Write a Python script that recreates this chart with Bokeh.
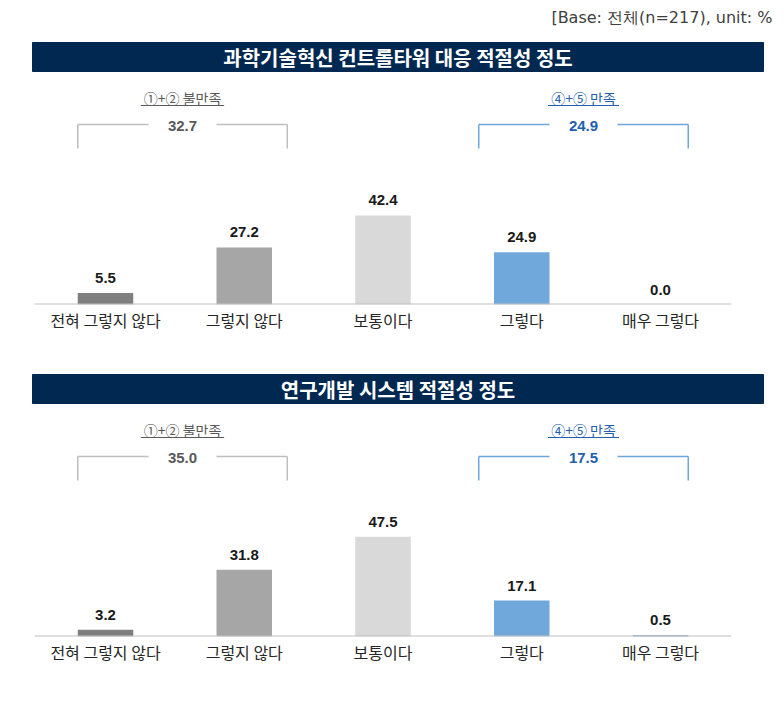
from bokeh.plotting import figure
from bokeh.models import Range1d, FixedTicker
from bokeh.layouts import column
from bokeh.embed import file_html
from bokeh.resources import INLINE
from bokeh.core.properties import value

# ---------------- data ----------------
categories = ["전혀 그렇지 않다", "그렇지 않다", "보통이다", "그렇다", "매우 그렇다"]
titles = ["과학기술혁신 컨트롤타워 대응 적절성 정도", "연구개발 시스템 적절성 정도"]
values_1 = [5.5, 27.2, 42.4, 24.9, 0.0]
values_2 = [3.2, 31.8, 47.5, 17.1, 0.5]
dissatisfied = [32.7, 35.0]
satisfied = [24.9, 17.5]
dissat_label = "①+② 불만족"
sat_label = "④+⑤ 만족"
base_note = "[Base: 전체(n=217), unit: %"

# ---------------- style ----------------
bar_colors = ["#7f7f7f", "#a6a6a6", "#d9d9d9", "#70a8dc", "#2e75b6"]
NAVY = "#002850"
GRAY_TXT = "#595959"
GRAY_LINE = "#bfbfbf"
BLUE_TXT = "#1f5fad"
BLUE_LINE = "#6fa6dc"
KR = "Noto Sans CJK KR"
NUM = "Liberation Sans"

SLOT = 138.75      # px per category
X0 = 105           # px centre of first category
PX_PER_UNIT = 2.1  # px per percent
W = 784
TOTAL_H = 705
P1_H = 340         # height of first panel


def make_panel(title, vals, dissat, sat, top, height, offset, show_note):
    """top: panel top in page px; offset: vertical offset of this panel's design."""
    base = 304 + offset          # baseline in page px
    frame_h = base - top
    p = figure(width=W, height=height,
               x_range=Range1d(-X0 / SLOT, (W - X0) / SLOT),
               y_range=Range1d(0, frame_h / PX_PER_UNIT),
               output_backend="svg", toolbar_location=None,
               min_border_left=0, min_border_right=0, min_border_top=0,
               min_border_bottom=height - frame_h,
               y_axis_location=None, outline_line_color=None)
    p.extra_x_ranges = {"px": Range1d(0, W)}
    p.extra_y_ranges = {"py": Range1d(base, top)}
    p.xgrid.visible = False
    p.ygrid.visible = False

    idx = list(range(len(categories)))
    o = offset

    # title band
    p.quad(left=[32], right=[763], top=[42 + o], bottom=[71 + o], x_range_name="px",
           y_range_name="py", fill_color=NAVY, line_color=NAVY)
    p.text(x=[397.5], y=[56.5 + o], text=[title], x_range_name="px", y_range_name="py",
           text_align="center", text_baseline="middle", text_color="white",
           text_font=value(KR), text_font_style="bold", text_font_size="20px")

    if show_note:
        p.text(x=[772], y=[17 + o], text=[base_note], x_range_name="px", y_range_name="py",
               text_align="right", text_baseline="middle", text_color="#404040",
               text_font=value("DejaVu Sans"), text_font_size="16px")

    # bars
    p.vbar(x=idx, top=vals, width=0.4, fill_color=bar_colors, line_color=None)
    p.text(x=idx, y=vals, text=[f"{v:.1f}" for v in vals], y_offset=-15,
           text_align="center", text_baseline="middle", text_color="#1a1a1a",
           text_font=value(NUM), text_font_style="bold", text_font_size="15px")

    # baseline
    p.segment(x0=[-0.51], x1=[len(categories) - 1 + 0.51], y0=[0], y1=[0],
              line_color=GRAY_LINE, line_width=2)

    # brackets
    groups = [
        (0 - 0.2, 1 + 0.31, dissat, dissat_label, GRAY_LINE, GRAY_TXT, 0.30),
        (3 - 0.31, 4 + 0.2, sat, sat_label, BLUE_LINE, BLUE_TXT, 0.256),
    ]
    for (a, b, tot, lab, lc, tc, uw) in groups:
        c = (a + b) / 2
        gap = 0.245
        p.segment(x0=[a, c + gap, a, b], x1=[c - gap, b, a, b],
                  y0=[124 + o] * 4, y1=[124 + o, 124 + o, 148 + o, 148 + o],
                  y_range_name="py", line_color=lc, line_width=1.5)
        p.text(x=[c], y=[125 + o], text=[f"{tot:.1f}"], y_range_name="py",
               text_align="center", text_baseline="middle", text_color=tc,
               text_font=value(NUM), text_font_style="bold", text_font_size="15px")
        p.text(x=[c], y=[97.5 + o], text=[lab], y_range_name="py",
               text_align="center", text_baseline="middle", text_color=tc,
               text_font=value(KR), text_font_size="14px")
        p.segment(x0=[c - uw], x1=[c + uw], y0=[105 + o], y1=[105 + o], y_range_name="py",
                  line_color=tc, line_width=1)

    ax = p.xaxis[0]
    ax.ticker = FixedTicker(ticks=idx)
    ax.major_label_overrides = {i: categories[i] for i in idx}
    ax.axis_line_color = None
    ax.major_tick_line_color = None
    ax.minor_tick_line_color = None
    ax.major_tick_out = 0
    ax.major_label_standoff = 3
    ax.major_label_text_font = KR
    ax.major_label_text_font_size = "16px"
    ax.major_label_text_color = "#262626"
    return p


p1 = make_panel(titles[0], values_1, dissatisfied[0], satisfied[0], 0, P1_H, 0, True)
p2 = make_panel(titles[1], values_2, dissatisfied[1], satisfied[1], P1_H, TOTAL_H - P1_H, 332, False)
p = column(p1, p2, spacing=0)

open("out.html", "w").write(file_html(p, INLINE))
